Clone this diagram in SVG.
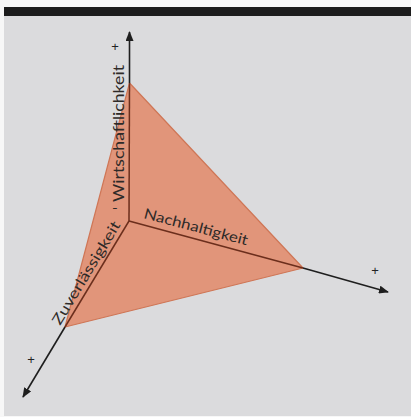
<svg xmlns="http://www.w3.org/2000/svg" width="411" height="417" viewBox="0 0 411 417">
  <style>
    .axis { stroke: #1e1e1e; stroke-width: 1.6; fill: none; }
    .edge { stroke: #6b2e1c; stroke-width: 1.5; fill: none; }
    .lbl { font-family: "Lato", "Open Sans", "Liberation Sans", sans-serif; fill: #2e2a28; }
    .plus { font-family: "Liberation Sans", sans-serif; font-size: 13px; fill: #222; text-anchor: middle; }
  </style>
  <defs>
    <marker id="arr" viewBox="0 0 10 8" refX="9" refY="4" markerWidth="10" markerHeight="8" markerUnits="userSpaceOnUse" orient="auto">
      <path d="M0,0 L10,4 L0,8 Z" fill="#1e1e1e"/>
    </marker>
  </defs>
  <rect x="0" y="0" width="411" height="417" fill="#f7f7f7"/>
  <rect x="4" y="16" width="407" height="400" fill="#dbdbdd"/>
  <rect x="4" y="7" width="407" height="9" fill="#1c1c1c"/>

  <g id="face">
    <polygon points="129.5,83 303,268 65,327" fill="#e1957a" stroke="#cf7656" stroke-width="1.2"/>
  </g>

  <g id="connectors">
    <line class="axis" x1="129.5" y1="83" x2="129.5" y2="32" marker-end="url(#arr)"/>
    <line class="axis" x1="303" y1="268" x2="388" y2="292" marker-end="url(#arr)"/>
    <line class="axis" x1="65" y1="327" x2="23" y2="397" marker-end="url(#arr)"/>
    <line class="edge" x1="129" y1="221" x2="129.5" y2="83"/>
    <line class="edge" x1="129" y1="221" x2="303" y2="268"/>
    <line class="edge" x1="129" y1="221" x2="65" y2="327"/>
  </g>

  <g id="plus-signs">
    <text class="plus" x="115" y="51">+</text>
    <text class="plus" x="375" y="275">+</text>
    <text class="plus" x="31" y="364">+</text>
  </g>

  <g id="label-wirtschaftlichkeit">
    <text class="lbl" font-size="15" transform="translate(124,202) rotate(-90)" textLength="137" lengthAdjust="spacingAndGlyphs">Wirtschaftlichkeit</text>
    <text class="lbl" font-size="15" transform="translate(124,210) rotate(-90)">'</text>
  </g>
  <g id="label-nachhaltigkeit">
    <text class="lbl" font-size="14.5" transform="translate(143,218) rotate(14.8)" textLength="107" lengthAdjust="spacingAndGlyphs">Nachhaltigkeit</text>
  </g>
  <g id="label-zuverlaessigkeit">
    <text class="lbl" font-size="14.5" transform="translate(60,326) rotate(-58.9)" textLength="118" lengthAdjust="spacingAndGlyphs">Zuverlässigkeit</text>
  </g>
</svg>
